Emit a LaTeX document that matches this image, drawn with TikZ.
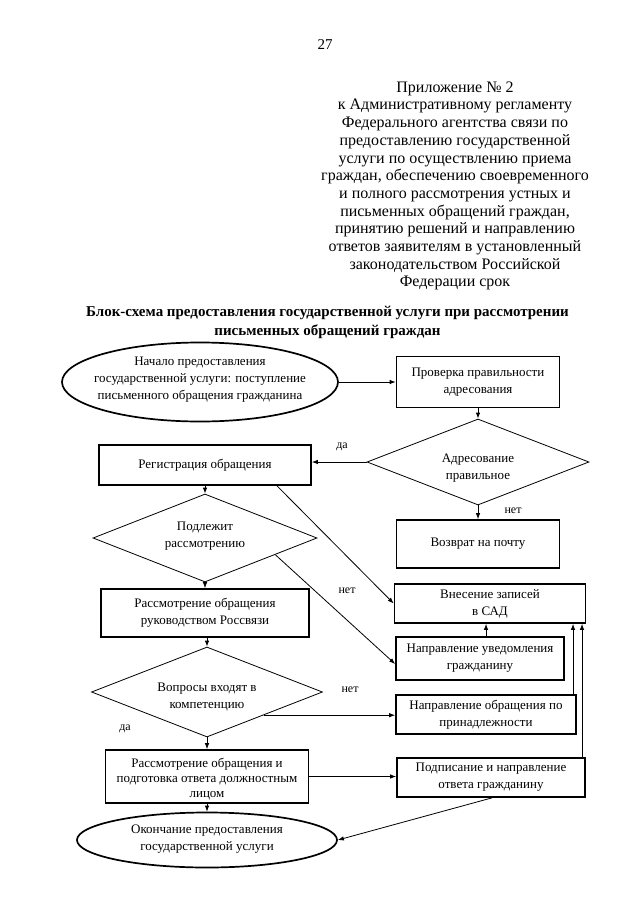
\documentclass[tikz,border=0pt]{standalone}
\usepackage{fontspec}
\setmainfont{Liberation Serif}
\usetikzlibrary{shapes.geometric,arrows.meta,calc}
\begin{document}
\begin{tikzpicture}[x=1pt,y=-1pt,
  txt/.style={font=\fontsize{13}{17}\selectfont, align=center, inner sep=0pt},
  box/.style={draw, line width=1.7pt, rectangle, inner sep=0pt, txt},
  oval/.style={draw, line width=1.7pt, ellipse, inner sep=0pt},
  dia/.style={draw, line width=0.8pt, diamond, inner sep=0pt},
  conn/.style={line width=0.8pt, -{Latex[length=6pt,width=4.5pt]}},
  lbl/.style={font=\fontsize{12}{14}\selectfont, inner sep=0pt}
]
\useasboundingbox (0,0) rectangle (640,905);
\fill[white] (0,0) rectangle (640,905);

% header
\node[inner sep=0pt, font=\fontsize{15}{18}\selectfont] (pnum) at (325,45) {27};
\node[inner sep=0pt, align=center, font=\fontsize{16}{17.7}\selectfont] (hdr) at (455,186) {Приложение № 2\\к Административному регламенту\\Федерального агентства связи по\\предоставлению государственной\\услуги по осуществлению приема\\граждан, обеспечению своевременного\\и полного рассмотрения устных и\\письменных обращений граждан,\\принятию решений и направлению\\ответов заявителям в установленный\\законодательством Российской\\Федерации срок};
\node[inner sep=0pt, align=center, font=\fontsize{15}{19}\selectfont\bfseries] (title) at (327.5,322.5) {Блок-схема предоставления государственной услуги при рассмотрении\\письменных обращений граждан};

% nodes
\node[oval, minimum width=276pt, minimum height=79pt] (start) at (200,382) {};
\node[txt] (startt) at (200,380) {Начало предоставления\\государственной услуги: поступление\\письменного обращения гражданина};
\node[box, minimum width=163pt, minimum height=51pt] (chk) at (478,382) {Проверка правильности\\адресования};
\node[dia, minimum width=222pt, minimum height=86pt] (adr) at (478,462) {};
\node[txt] (adrt) at (478,468) {Адресование\\правильное};
\node[box, minimum width=212pt, minimum height=40pt] (reg) at (205,465) {Регистрация обращения};
\node[box, minimum width=163pt, minimum height=48pt] (ret) at (478,544) {Возврат на почту};
\node[dia, minimum width=224pt, minimum height=88pt] (sub) at (205,538) {};
\node[txt] (subt) at (205,536) {Подлежит\\рассмотрению};
\node[box, minimum width=208pt, minimum height=48pt] (ros) at (205,613) {Рассмотрение обращения\\руководством Россвязи};
\node[dia, minimum width=231pt, minimum height=90pt] (q) at (207,692) {};
\node[txt] (qt) at (207,697) {Вопросы входят в\\компетенцию};
\node[box, minimum width=191pt, minimum height=39pt] (sad) at (490,603.5) {Внесение записей\\в САД};
\node[box, minimum width=168pt, minimum height=43pt] (notif) at (480,658.5) {Направление уведомления\\гражданину};
\node[box, minimum width=180pt, minimum height=39pt] (redir) at (486,714.5) {Направление обращения по\\принадлежности};
\node[box, minimum width=203pt, minimum height=53pt] (prep) at (207,776.5) {};
\node[txt, font=\fontsize{13}{15}\selectfont] (prept) at (207,779) {Рассмотрение обращения и\\подготовка ответа должностным\\лицом};
\node[box, minimum width=188pt, minimum height=39pt] (sign) at (491,777.5) {Подписание и направление\\ответа гражданину};
\node[oval, minimum width=260pt, minimum height=55pt] (end) at (207,840) {};
\node[txt] (endt) at (207,839) {Окончание предоставления\\государственной услуги};

% connectors
\draw[conn] (start.east) -- (chk.west);
\draw[conn] (chk.south) -- (adr.north);
\draw[conn] (adr.west) -- (adr.west -| reg.east);
\node[lbl] (lda1) at (342,447) {да};
\draw[conn] (adr.south) -- (ret.north);
\node[lbl] (lnet1) at (513,511) {нет};
\draw[conn] (reg.south) -- (sub.north);
\draw[conn] ([xshift=72pt]reg.south) -- (sad.west);
\coordinate (subp) at ($(sub.east)!0.375!(sub.south)$);
\draw[conn] (subp) -- ($(notif.west)+(0,5.5)$);
\node[lbl] (lnet2) at (347,591) {нет};
\draw[conn] (sub.south) -- (ros.north);
\draw[conn] (q.north |- ros.south) -- (q.north);
\coordinate (qp) at ($(q.east)!0.511!(q.south)$);
\draw[conn] (qp) -- (qp -| redir.west);
\node[lbl] (lnet3) at (350,690) {нет};
\draw[conn] (q.south) -- (prep.north);
\node[lbl] (lda2) at (125,729) {да};
\draw[conn] ([xshift=6pt]notif.north) -- ([xshift=6pt]notif.north |- sad.south);
\draw[conn] ([xshift=87pt]redir.north) -- ([xshift=87pt]redir.north |- sad.south);
\draw[conn] ([xshift=91pt]sign.north) -- ([xshift=91pt]sign.north |- sad.south);
\draw[conn] (prep.east) -- (prep.east -| sign.west);
\draw[conn] (prep.south) -- (end.north);
\draw[conn] ([xshift=1pt]sign.south) -- (end.east);
\end{tikzpicture}
\end{document}
